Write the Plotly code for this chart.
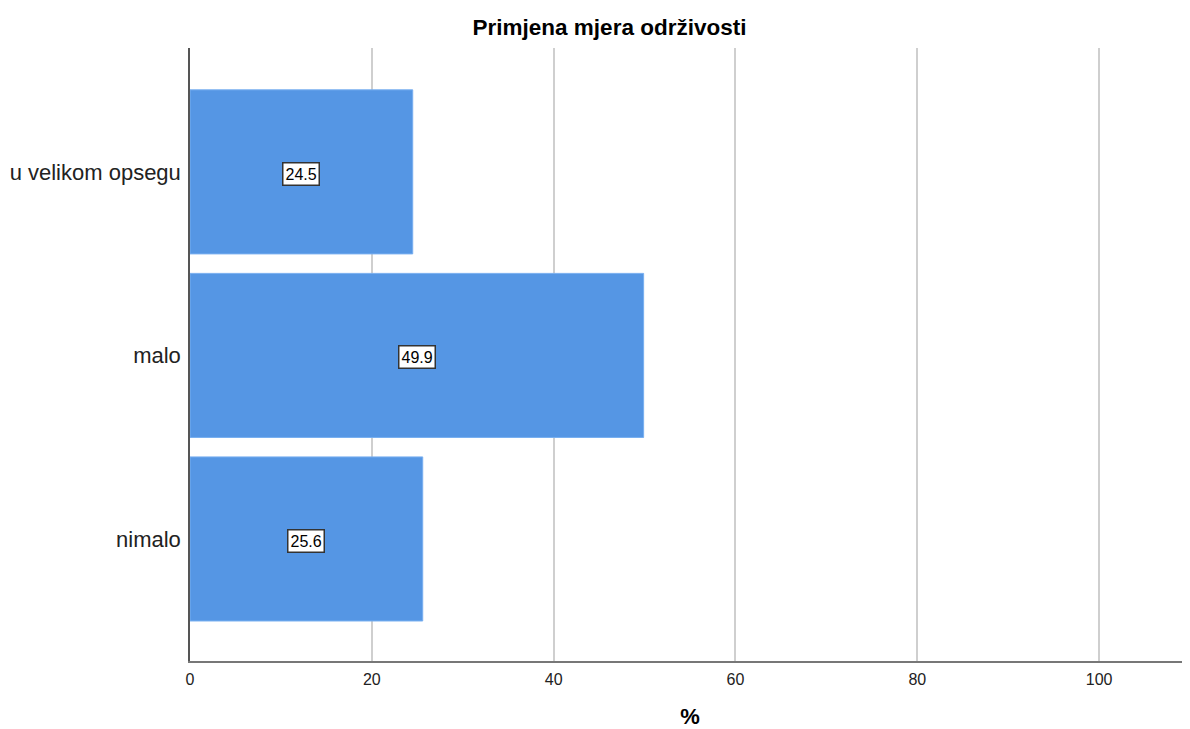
import plotly.graph_objects as go

categories = ["nimalo", "malo", "u velikom opsegu"]
values = [25.6, 49.9, 24.5]
x_ticks = [0, 20, 40, 60, 80, 100]

W, H = 1182, 721  # page body has an 8px margin

fig = go.Figure()
fig.add_trace(go.Bar(
    y=categories, x=values, orientation="h",
    marker=dict(color="rgb(85,150,228)", line=dict(color="rgb(120,175,240)", width=1)),
    hoverinfo="skip",
))

for c, v in zip(categories, values):
    fig.add_annotation(
        x=v / 2, y=c, text=f"{v:.1f}", showarrow=False,
        font=dict(family="Liberation Sans, Arial", size=16, color="black"),
        bgcolor="white", bordercolor="#333", borderwidth=1.5, borderpad=2,
        yshift=-2,
    )

fig.update_layout(
    width=W, height=H,
    margin=dict(l=182, r=0, t=40, b=68),
    paper_bgcolor="white", plot_bgcolor="white",
    bargap=0.106,
    showlegend=False,
    title=dict(text="<b>Primjena mjera održivosti</b>", x=(609.5 - 8) / W, xanchor="center",
               y=1 - 19 / H, yanchor="middle",
               font=dict(family="Liberation Sans, Arial", size=22.5, color="black")),
    font=dict(family="Liberation Sans, Arial", color="black"),
)
fig.update_xaxes(
    range=[0, 110], tickvals=x_ticks, ticktext=[str(t) for t in x_ticks],
    showgrid=True, gridcolor="#cfcfcf", gridwidth=1.5,
    showline=True, linecolor="#777", linewidth=1.5,
    zeroline=False, ticks="", tickfont=dict(size=16, color="#222"),
    ticklabelstandoff=3,
    title=dict(text="<b>%</b>", font=dict(size=22, color="black"), standoff=22),
)
fig.update_yaxes(
    type="category", categoryorder="array", categoryarray=categories,
    range=[-0.665, 2.675],
    showgrid=False, showline=True, linecolor="#555", linewidth=1.5,
    ticks="", tickfont=dict(size=22, color="#222"), ticklabelstandoff=3,
)

fig.write_html("out.html")
